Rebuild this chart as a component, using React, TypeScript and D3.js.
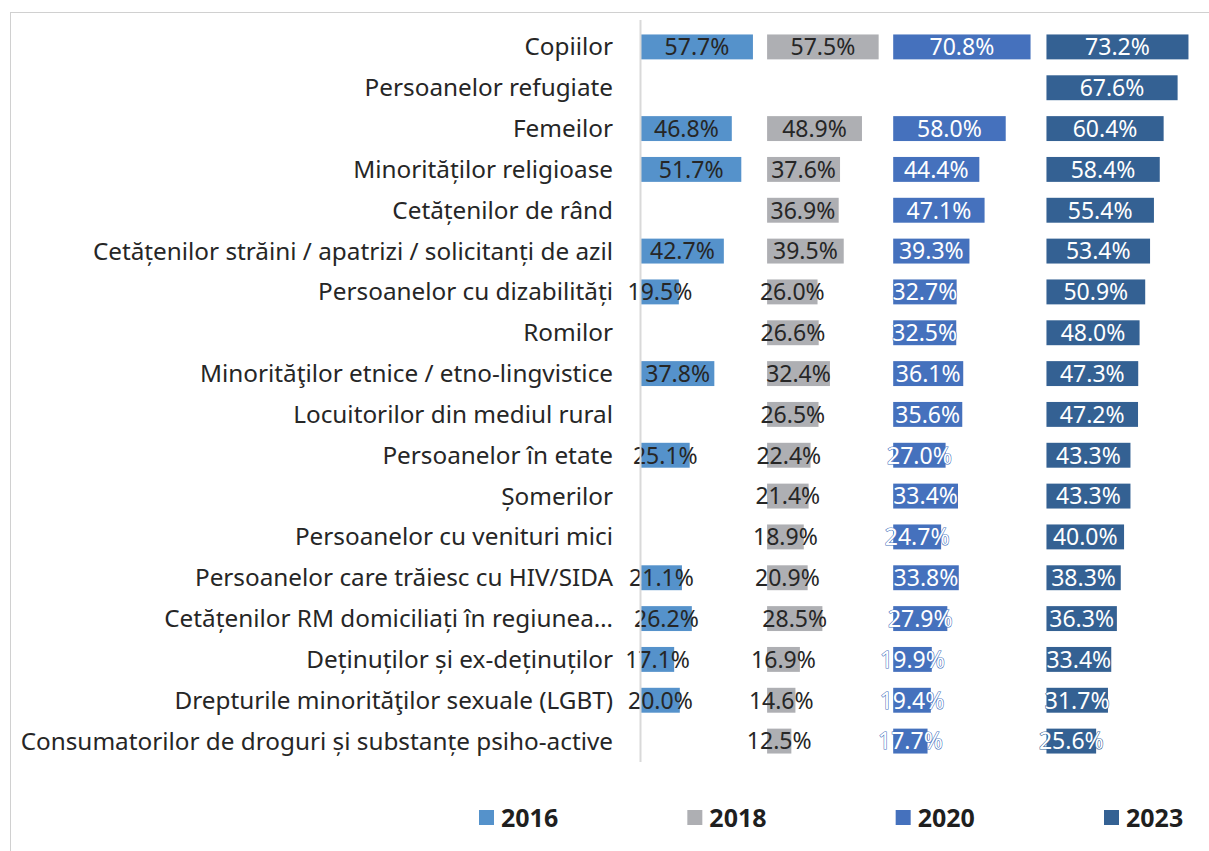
import React from 'react';
import * as d3 from 'd3';

const categories = [
  'Copiilor',
  'Persoanelor refugiate',
  'Femeilor',
  'Minorităților religioase',
  'Cetățenilor de rând',
  'Cetățenilor străini / apatrizi / solicitanți de azil',
  'Persoanelor cu dizabilități',
  'Romilor',
  'Minorităţilor etnice / etno-lingvistice',
  'Locuitorilor din mediul rural',
  'Persoanelor în etate',
  'Șomerilor',
  'Persoanelor cu venituri mici',
  'Persoanelor care trăiesc cu HIV/SIDA',
  'Cetățenilor RM domiciliați în regiunea…',
  'Deținuților și ex-deținuților',
  'Drepturile minorităţilor sexuale (LGBT)',
  'Consumatorilor de droguri și substanțe psiho-active',
];

const years = ['2016', '2018', '2020', '2023'];

const values2016 = [57.7, null, 46.8, 51.7, null, 42.7, 19.5, null, 37.8, null, 25.1, null, null, 21.1, 26.2, 17.1, 20.0, null];
const values2018 = [57.5, null, 48.9, 37.6, 36.9, 39.5, 26.0, 26.6, 32.4, 26.5, 22.4, 21.4, 18.9, 20.9, 28.5, 16.9, 14.6, 12.5];
const values2020 = [70.8, null, 58.0, 44.4, 47.1, 39.3, 32.7, 32.5, 36.1, 35.6, 27.0, 33.4, 24.7, 33.8, 27.9, 19.9, 19.4, 17.7];
const values2023 = [73.2, 67.6, 60.4, 58.4, 55.4, 53.4, 50.9, 48.0, 47.3, 47.2, 43.3, 43.3, 40.0, 38.3, 36.3, 33.4, 31.7, 25.6];

const series = [values2016, values2018, values2020, values2023];

// layout (percent units for each panel's width)
const panelSpan = [65, 65, 79, 81];
const colors = ['#5592CB', '#AEAFB3', '#4571BD', '#346193'];
const lightText = [false, false, true, true];

const W = 1209;
const H = 851;
const FONT = '"Noto Sans", Lato, sans-serif';

export default function App() {
  const offsets = d3.cumsum([0, ...panelSpan.slice(0, -1)]);
  const total = d3.sum(panelSpan);
  const x = d3.scaleLinear().domain([0, total]).range([641, 641 + total * 1.94]);
  const y = d3
    .scaleBand<string>()
    .domain(categories)
    .range([26.5, 761.5])
    .paddingInner(0.39)
    .paddingOuter(0.195);

  const legendX = d3.scaleLinear().domain([0, 3]).range([479, 1104]);

  return (
    <div style={{ position: 'fixed', left: 0, top: 0, width: W, height: H, background: '#fff' }}>
      <svg width={W} height={H} style={{ display: 'block' }}>
        <rect x={10.5} y={12.5} width={W + 20} height={H + 20} fill="#fff" stroke="#d0d0d0" strokeWidth={1} />

        {categories.map((c) => (
          <text
            key={c}
            x={613}
            y={y(c)! + y.bandwidth() / 2}
            dy="0.35em"
            textAnchor="end"
            fontFamily={FONT}
            fontSize={24.3}
            fill="#262626"
          >
            {c}
          </text>
        ))}

        {series.map((vals, si) => (
          <g key={years[si]}>
            {vals.map((v, i) =>
              v == null ? null : (
                <rect
                  key={i}
                  x={x(offsets[si])}
                  y={y(categories[i])!}
                  width={x(offsets[si] + v) - x(offsets[si])}
                  height={y.bandwidth()}
                  fill={colors[si]}
                />
              )
            )}
            {vals.map((v, i) =>
              v == null ? null : (
                <text
                  key={'t' + i}
                  x={(x(offsets[si]) + x(offsets[si] + v)) / 2}
                  y={y(categories[i])! + y.bandwidth() / 2}
                  dy="0.36em"
                  textAnchor="middle"
                  fontFamily={FONT}
                  fontSize={23}
                  fill={lightText[si] ? '#ffffff' : '#262626'}
                  stroke={lightText[si] ? colors[si] : 'none'}
                  strokeWidth={lightText[si] ? 1.1 : 0}
                  paintOrder="stroke"
                >
                  {d3.format('.1f')(v)}%
                </text>
              )
            )}
          </g>
        ))}

        <line x1={640.5} x2={640.5} y1={20} y2={762} stroke="#d9d9d9" strokeWidth={2} />

        {years.map((yr, i) => (
          <g key={yr} transform={`translate(${legendX(i)},818)`}>
            <rect x={0} y={-8} width={15} height={15} fill={colors[i]} />
            <text x={22} dy="0.36em" fontFamily={FONT} fontSize={25} fontWeight={700} fill="#1f1f1f">
              {yr}
            </text>
          </g>
        ))}
      </svg>
    </div>
  );
}
